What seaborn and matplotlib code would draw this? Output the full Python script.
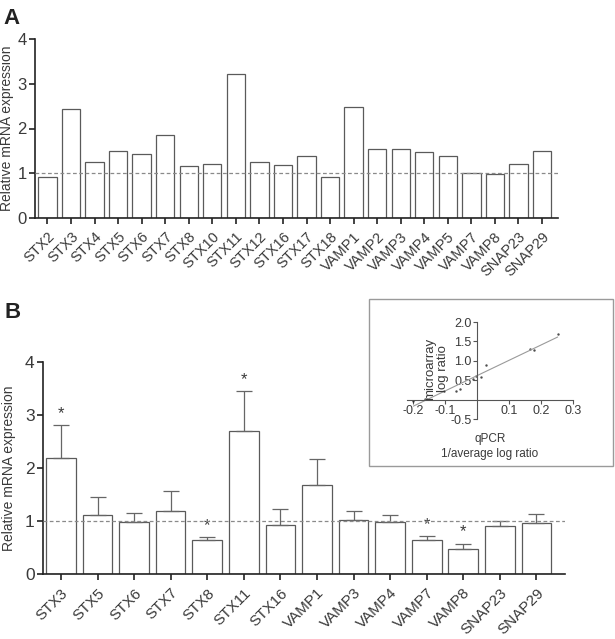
import numpy as np
import pandas as pd
import matplotlib
matplotlib.use("Agg")
import matplotlib.pyplot as plt
import seaborn as sns
from matplotlib.patches import Rectangle

# panel A: microarray-style screen, all genes
genes_a = ["STX2", "STX3", "STX4", "STX5", "STX6", "STX7", "STX8", "STX10",
           "STX11", "STX12", "STX16", "STX17", "STX18", "VAMP1", "VAMP2",
           "VAMP3", "VAMP4", "VAMP5", "VAMP7", "VAMP8", "SNAP23", "SNAP29"]
expr_a = [0.91, 2.44, 1.25, 1.49, 1.44, 1.86, 1.17, 1.21, 3.21, 1.26, 1.18,
          1.39, 0.92, 2.47, 1.54, 1.54, 1.47, 1.39, 1.01, 0.98, 1.21, 1.49]

# panel B: qPCR validation with SEM (upper bar only)
genes_b = ["STX3", "STX5", "STX6", "STX7", "STX8", "STX11", "STX16", "VAMP1",
           "VAMP3", "VAMP4", "VAMP7", "VAMP8", "SNAP23", "SNAP29"]
expr_b = [2.18, 1.12, 0.98, 1.19, 0.64, 2.69, 0.93, 1.68,
          1.01, 0.99, 0.64, 0.47, 0.90, 0.96]
err_b = [0.63, 0.34, 0.17, 0.37, 0.05, 0.76, 0.29, 0.49,
         0.18, 0.13, 0.07, 0.10, 0.10, 0.17]
signif_b = ["STX3", "STX8", "STX11", "VAMP7", "VAMP8"]

# inset: microarray vs qPCR log ratios
qpcr_ratio = [-0.200, -0.164, -0.104, -0.065, -0.054, -0.012, -0.004,
              0.011, 0.029, 0.165, 0.177, 0.252]
micro_ratio = [-0.03, 0.01, 0.23, 0.23, 0.27, 0.52, 0.60,
               0.57, 0.90, 1.30, 1.28, 1.68]

sns.set_style("ticks")
plt.rcParams["font.family"] = ["Liberation Sans", "DejaVu Sans"]
TXT = "#3a3a3a"
EDGE = "#5a5a5a"
plt.rcParams.update({
    "text.color": TXT, "axes.labelcolor": TXT,
    "xtick.color": "#222222", "ytick.color": "#222222",
    "xtick.labelcolor": TXT, "ytick.labelcolor": TXT,
    "axes.edgecolor": "#222222",
})

fig = plt.figure(figsize=(6.15, 6.39), dpi=100)
W, H = 615, 639


def px_axes(x0, y0, x1, y1):
    """axes from pixel box (top-left origin)"""
    return fig.add_axes([x0 / W, 1 - y1 / H, (x1 - x0) / W, (y1 - y0) / H])


def style_bar_axes(ax, fs_x, fs_y, label_x):
    sns.despine(ax=ax)
    ax.set_ylim(0, 4)
    ax.set_yticks([0, 1, 2, 3, 4])
    ax.tick_params(axis="both", length=4.5, width=1.2)
    ax.tick_params(axis="x", labelsize=fs_x, pad=4)
    ax.tick_params(axis="y", labelsize=fs_y, pad=1.5)
    ax.set_xlabel("")
    ax.set_ylabel("Relative mRNA expression", fontsize=10)
    ax.yaxis.set_label_coords(label_x, 0.5)
    for lab in ax.get_xticklabels():
        lab.set_rotation(45)
        lab.set_ha("right")
        lab.set_rotation_mode("anchor")
    ax.axhline(1, ls=(0, (3, 2)), color="#8a8a8a", lw=0.9, zorder=5)
    for s in ax.spines.values():
        s.set_linewidth(1.2)


# ---- panel A
df_a = pd.DataFrame({"gene": genes_a, "expr": expr_a})
ax_a = px_axes(35, 39, 558, 218)
sns.barplot(data=df_a, x="gene", y="expr", color="white", edgecolor=EDGE,
            linewidth=0.9, width=0.78, ax=ax_a)
ax_a.set_xlim(-0.53, len(genes_a) - 1 + 0.68)
style_bar_axes(ax_a, 10.5, 12, -0.040)
fig.text(3 / W, 1 - 8 / H, "A", fontsize=16, fontweight="bold",
         va="top", ha="left", color="#222222")

# ---- panel B
df_b = pd.DataFrame({"gene": genes_b, "expr": expr_b, "err": err_b})
ax_b = px_axes(43, 362, 565, 574)
sns.barplot(data=df_b, x="gene", y="expr", color="white", edgecolor=EDGE,
            linewidth=0.9, width=0.81, ax=ax_b)
xpos = np.arange(len(genes_b))
ax_b.errorbar(xpos, df_b["expr"], yerr=[np.zeros(len(xpos)), df_b["err"]],
              fmt="none", ecolor="#666666", elinewidth=0.9, capsize=5.5,
              capthick=0.9, zorder=4)
for i, g in enumerate(genes_b):
    if g in signif_b:
        ax_b.text(i, expr_b[i] + err_b[i] + 0.08, "*", ha="center",
                  va="bottom", fontsize=12, color=TXT)
ax_b.set_xlim(-0.49, len(genes_b) - 1 + 0.78)
style_bar_axes(ax_b, 11, 12.5, -0.052)
fig.text(4 / W, 1 - 302 / H, "B", fontsize=16, fontweight="bold",
         va="top", ha="left", color="#222222")

# ---- inset box + scatter
fig.patches.append(Rectangle((369 / W, 1 - 466 / H), (613 - 369) / W,
                             (466 - 299) / H, transform=fig.transFigure,
                             fill=False, edgecolor="#9a9a9a", lw=1.0))
ax_i = px_axes(407, 322, 573, 419)
df_i = pd.DataFrame({"qpcr": qpcr_ratio, "micro": micro_ratio})
sns.regplot(data=df_i, x="qpcr", y="micro", ci=None, ax=ax_i,
            scatter_kws={"s": 3, "color": "#222222", "linewidths": 0},
            line_kws={"color": "#9a9a9a", "lw": 0.8})
ax_i.set_xlim(-0.22, 0.3)
ax_i.set_ylim(-0.5, 2.0)
ax_i.spines["left"].set_position(("data", 0))
ax_i.spines["bottom"].set_position(("data", 0))
ax_i.spines["top"].set_visible(False)
ax_i.spines["right"].set_visible(False)
for s in ("left", "bottom"):
    ax_i.spines[s].set_color("#555555")
    ax_i.spines[s].set_linewidth(0.8)
ax_i.set_xticks([-0.2, -0.1, 0.1, 0.2, 0.3])
ax_i.set_xticklabels(["-0.2", "-0.1", "0.1", "0.2", "0.3"])
ax_i.set_yticks([-0.5, 0.5, 1.0, 1.5, 2.0])
ax_i.set_yticklabels(["-0.5", "0.5", "1.0", "1.5", "2.0"])
ax_i.tick_params(axis="both", length=3, width=0.8, labelsize=9, pad=1,
                 colors="#555555", labelcolor=TXT)
ax_i.set_xlabel("")
ax_i.set_ylabel("")
ax_i.text(0.5, -0.14, "qPCR\n1/average log ratio", transform=ax_i.transAxes,
          ha="center", va="top", fontsize=8.5, linespacing=1.35)
ax_i.text(0.18, 0.52, "microarray\nlog ratio", transform=ax_i.transAxes,
          ha="center", va="center", rotation=90, fontsize=9.5,
          linespacing=1.05)

fig.savefig("out.png", dpi=100, facecolor="white")
